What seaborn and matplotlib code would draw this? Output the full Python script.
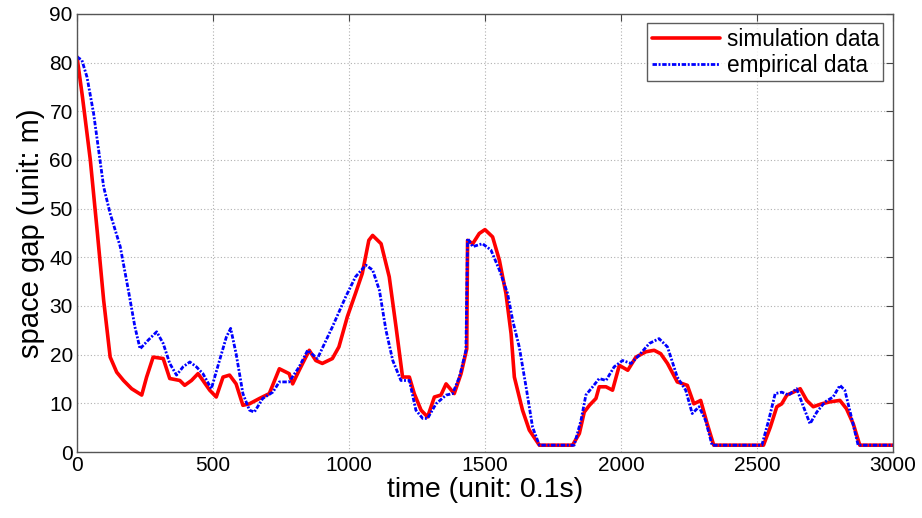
import numpy as np
import pandas as pd
import matplotlib
matplotlib.use('Agg')
import matplotlib.pyplot as plt
import seaborn as sns

# simulation data (red), time in 0.1s
sim_t = [0, 20, 49, 75, 98, 122, 146, 171, 201, 238, 256, 280, 317, 341, 378, 396, 421, 445,
         463, 488, 512, 537, 561, 585, 610, 634, 671, 707, 744, 780, 793, 817, 854, 878, 902,
         939, 963, 994, 1024, 1049, 1073, 1087, 1118, 1148, 1173, 1197, 1222, 1240, 1265,
         1289, 1314, 1338, 1357, 1387, 1412, 1433, 1436, 1455, 1479, 1500, 1528, 1553, 1577,
         1596, 1608, 1638, 1663, 1700, 1822, 1847, 1865, 1884, 1908, 1920, 1945, 1969, 1994,
         2025, 2055, 2092, 2122, 2146, 2171, 2207, 2244, 2268, 2293, 2317, 2341, 2524, 2549,
         2573, 2591, 2610, 2634, 2659, 2683, 2707, 2738, 2768, 2805, 2829, 2854, 2878, 3000]
sim_y = [81.2, 73.0, 60.0, 45.0, 31.2, 19.5, 16.4, 14.7, 13.0, 11.7, 15.4, 19.5, 19.2, 15.1,
         14.7, 13.7, 14.7, 16.1, 14.7, 12.7, 11.3, 15.4, 15.8, 14.0, 9.6, 9.9, 11.0, 12.0,
         17.1, 16.1, 14.0, 16.8, 20.9, 18.8, 18.2, 19.2, 21.6, 27.8, 32.6, 36.7, 43.5, 44.5,
         42.8, 36.0, 25.7, 15.4, 15.4, 12.0, 8.6, 7.2, 11.3, 11.7, 14.0, 12.0, 16.1, 21.2,
         43.5, 42.8, 44.9, 45.7, 44.2, 39.4, 32.6, 24.3, 15.4, 8.6, 4.5, 1.4, 1.4, 3.8, 8.2,
         9.6, 11.0, 13.4, 13.4, 12.7, 17.8, 16.8, 19.5, 20.6, 20.9, 20.2, 18.2, 14.4, 13.7,
         9.9, 10.6, 5.8, 1.4, 1.4, 5.1, 9.3, 9.9, 11.7, 12.3, 13.0, 10.6, 9.3, 9.9, 10.3,
         10.6, 8.9, 5.8, 1.4, 1.4]

# empirical data (blue)
emp_t = [0, 18, 37, 61, 98, 122, 159, 189, 213, 232, 262, 293, 317, 341, 366, 390, 415, 439,
         463, 494, 524, 549, 565, 585, 610, 634, 652, 683, 720, 744, 780, 817, 848, 884, 939,
         988, 1024, 1062, 1087, 1112, 1136, 1161, 1191, 1222, 1246, 1271, 1289, 1320, 1357,
         1381, 1406, 1430, 1436, 1455, 1491, 1522, 1553, 1583, 1602, 1626, 1651, 1675, 1700,
         1828, 1853, 1871, 1896, 1920, 1945, 1975, 2006, 2037, 2067, 2104, 2140, 2171, 2207,
         2238, 2262, 2287, 2311, 2335, 2518, 2543, 2567, 2591, 2616, 2646, 2671, 2695, 2720,
         2750, 2780, 2805, 2823, 2841, 2872, 3000]
emp_y = [81.2, 80.5, 77.0, 69.6, 54.5, 49.0, 42.2, 33.2, 25.7, 21.2, 23.0, 24.7, 22.3, 18.2,
         15.8, 17.5, 18.5, 17.5, 16.1, 13.0, 18.8, 23.6, 25.4, 20.2, 12.0, 8.6, 8.2, 11.0,
         12.3, 14.4, 14.4, 17.5, 20.9, 19.2, 25.7, 31.9, 36.0, 38.4, 37.4, 33.2, 25.0, 18.8,
         14.7, 14.7, 8.6, 6.9, 6.9, 9.9, 11.7, 12.0, 15.4, 20.9, 43.9, 42.2, 42.8, 41.5, 37.4,
         32.6, 27.0, 21.6, 13.4, 5.1, 1.4, 1.4, 6.5, 11.7, 13.4, 15.1, 14.7, 17.5, 18.8, 18.2,
         19.9, 22.3, 23.3, 21.6, 15.4, 12.7, 7.9, 9.3, 6.5, 1.4, 1.4, 6.5, 12.0, 12.3, 11.7,
         13.0, 9.3, 5.8, 8.2, 10.3, 11.3, 13.7, 12.7, 8.6, 1.4, 1.4]

x_ticks = [0, 500, 1000, 1500, 2000, 2500, 3000]
y_ticks = [0, 10, 20, 30, 40, 50, 60, 70, 80, 90]

sns.set_style('white')
plt.rcParams['font.family'] = ['Liberation Sans', 'DejaVu Sans']

fig = plt.figure(figsize=(9.22, 5.18), dpi=100)
ax = fig.add_axes([0.0835, 0.1274, 0.885, 0.8456])

blue_dash = [1.6, 0.6, 0.7, 0.6]

sns.lineplot(x=sim_t, y=sim_y, ax=ax, color='#ff0000', linewidth=2.6,
             estimator=None, sort=False, label='simulation data')
sns.lineplot(x=emp_t, y=emp_y, ax=ax, color='#0000ff', linewidth=2.0,
             estimator=None, sort=False, label='empirical data')
ax.lines[-1].set_dashes(blue_dash)

ax.set_xlim(0, 3000)
ax.set_ylim(0, 90)
ax.set_xticks(x_ticks)
ax.set_yticks(y_ticks)
ax.tick_params(direction='in', top=True, right=True, length=5, labelsize=15,
               color='#444444', labelcolor='black', pad=3)
ax.grid(True, linestyle=(0, (1, 2)), color='#b0b0b0', linewidth=0.8)
for s in ax.spines.values():
    s.set_color('#555555')
    s.set_linewidth(1.0)

ax.set_xlabel('time (unit: 0.1s)', fontsize=20.5, labelpad=1, color='black')
ax.set_ylabel('space gap (unit: m)', fontsize=21, labelpad=3, color='black')

leg = ax.legend(loc='upper right', fontsize=16.3, frameon=True, fancybox=False,
                handlelength=3.0, borderpad=0.2, labelspacing=0.12,
                handletextpad=0.3, borderaxespad=0.42)
leg.get_frame().set_edgecolor('#333333')
leg.get_frame().set_linewidth(1.0)
leg.get_lines()[1].set_dashes(blue_dash)
for t in leg.get_texts():
    t.set_color('black')

fig.savefig('out.png', dpi=100)
